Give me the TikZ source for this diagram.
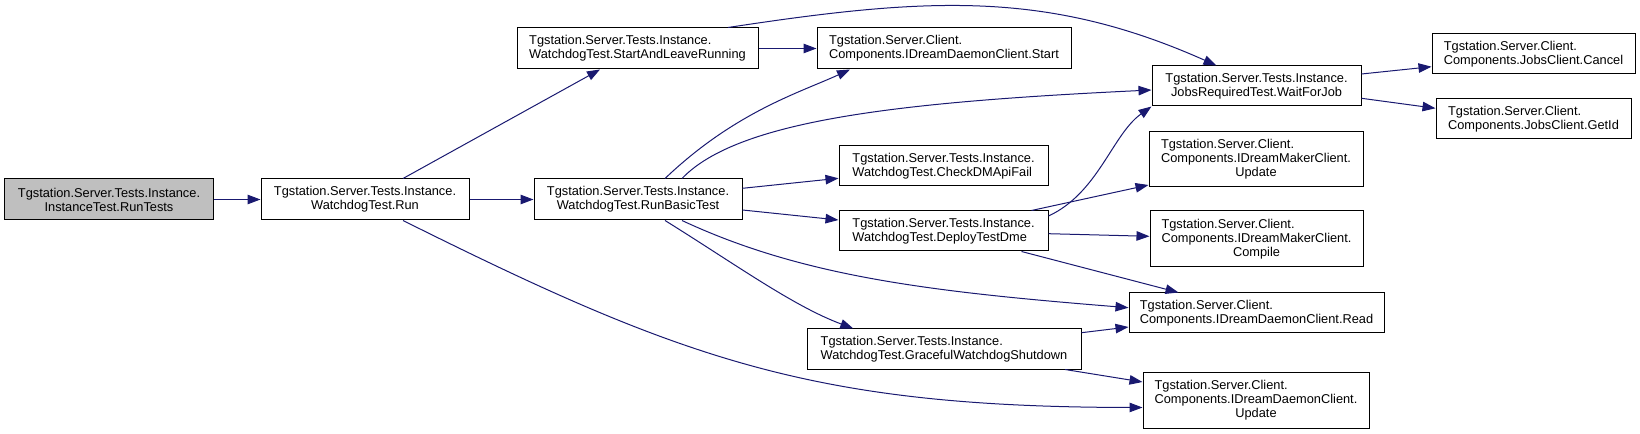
\documentclass[tikz,border=0pt]{standalone}
\usepackage{fontspec}
\setmainfont{Liberation Sans}
\usetikzlibrary{arrows.meta,calc}
\definecolor{edgeblue}{HTML}{191970}
\definecolor{rootgray}{HTML}{BFBFBF}
\newcommand\padl[2]{\rlap{#1}\phantom{#2}}
\begin{document}
\begin{tikzpicture}[x=1bp,y=-1bp,
  box/.style={draw=black, line width=1bp, fill=white, inner sep=0pt,
    font=\fontsize{12.8bp}{14bp}\selectfont},
  boxl/.style={box, align=left},
  boxc/.style={box, align=center},
  conn/.style={draw=edgeblue, line width=1bp, -{Triangle[length=13bp,width=9.5bp]}}]
\useasboundingbox (0,0) rectangle (1640,434);

\node[boxc, fill=rootgray, minimum width=208bp, minimum height=41bp] (A) at (109,199.5)
  {Tgstation.Server.Tests.Instance.\\InstanceTest.RunTests};
\node[boxc, minimum width=208bp, minimum height=41bp] (B) at (365,199.5)
  {Tgstation.Server.Tests.Instance.\\WatchdogTest.Run};
\node[boxl, minimum width=241bp, minimum height=41bp] (C) at (637.5,48.5)
  {Tgstation.Server.Tests.Instance.\\WatchdogTest.StartAndLeaveRunning};
\node[boxc, minimum width=208bp, minimum height=41bp] (D) at (638,199.5)
  {Tgstation.Server.Tests.Instance.\\WatchdogTest.RunBasicTest};
\node[boxl, minimum width=254bp, minimum height=41bp] (E) at (944,48.5)
  {Tgstation.Server.Client.\\Components.IDreamDaemonClient.Start};
\node[boxc, minimum width=209bp, minimum height=40bp] (F) at (1256.5,86)
  {Tgstation.Server.Tests.Instance.\\JobsRequiredTest.WaitForJob};
\node[boxl, minimum width=209bp, minimum height=40bp] (G) at (943.5,166)
  {Tgstation.Server.Tests.Instance.\\WatchdogTest.CheckDMApiFail};
\node[boxl, minimum width=209bp, minimum height=40bp] (H) at (943.5,231)
  {Tgstation.Server.Tests.Instance.\\WatchdogTest.DeployTestDme};
\node[boxl, minimum width=274bp, minimum height=40bp] (I) at (944,349)
  {Tgstation.Server.Tests.Instance.\\WatchdogTest.GracefulWatchdogShutdown};
\node[boxl, minimum width=255bp, minimum height=40bp] (J) at (1256.5,313)
  {Tgstation.Server.Client.\\Components.IDreamDaemonClient.Read};
\node[boxc, minimum width=226bp, minimum height=55bp] (K) at (1256,400.5)
  {\padl{Tgstation.Server.Client.}{Components.IDreamDaemonClient.}\\Components.IDreamDaemonClient.\\Update};
\node[boxl, minimum width=203bp, minimum height=40bp] (L) at (1533.5,54)
  {Tgstation.Server.Client.\\Components.JobsClient.Cancel};
\node[boxl, minimum width=195bp, minimum height=40bp] (M) at (1533.5,119)
  {Tgstation.Server.Client.\\Components.JobsClient.GetId};
\node[boxc, minimum width=214bp, minimum height=55bp] (N) at (1256,159.5)
  {\padl{Tgstation.Server.Client.}{Components.IDreamMakerClient.}\\Components.IDreamMakerClient.\\Update};
\node[boxc, minimum width=213bp, minimum height=56bp] (O) at (1256.5,239)
  {\padl{Tgstation.Server.Client.}{Components.IDreamMakerClient.}\\Components.IDreamMakerClient.\\Compile};

% connectors
\draw[conn] (A.east) -- (B.west);
\draw[conn] ($(B.north)+(38,0)$) -- ($(C.south)+(-37.5,0)$);
\draw[conn] (B.east) -- (D.west);
\draw[conn] ($(B.south)+(38,0)$) .. controls (683,360) and (813,407) .. ($(K.west)+(0,7)$);
\draw[conn] (C.east) -- (E.west);
\draw[conn] ($(C.north)+(90.5,0)$) .. controls (928,-3) and (1047,-10) .. ($(F.north)+(-40,0)$);
\draw[conn] ($(D.north)+(27,0)$) .. controls (735,111.8) and (800,92.5) .. ($(E.south)+(-94,0)$);
\draw[conn] ($(D.north)+(44,0)$) .. controls (738,120) and (900,102) .. ($(F.west)+(0,4)$);
\draw[conn] ($(D.east)+(0,-11.2)$) -- ($(G.west)+(0,12.3)$);
\draw[conn] ($(D.east)+(0,10.5)$) -- ($(H.west)+(0,-11)$);
\draw[conn] ($(D.south)+(27,0)$) .. controls (735,264) and (793.3,306.2) .. ($(I.north)+(-90.7,0)$);
\draw[conn] ($(D.south)+(44,0)$) .. controls (801.7,276.4) and (929,291.7) .. ($(J.west)+(0,-5.3)$);
\draw[conn] ($(H.east)+(0,-15)$) .. controls (1098.3,193) and (1112.3,134.4) .. (F.south west);
\draw[conn] ($(H.north)+(88,0)$) -- ($(N.west)+(0,25.5)$);
\draw[conn] ($(H.east)+(0,2.7)$) -- ($(O.west)+(0,-2.7)$);
\draw[conn] ($(H.south)+(78,0)$) -- ($(J.north)+(-78,0)$);
\draw[conn] ($(I.east)+(0,-16.3)$) -- ($(J.west)+(0,14)$);
\draw[conn] ($(I.south)+(121,0)$) -- ($(K.west)+(0,-18.5)$);
\draw[conn] ($(F.east)+(0,-12)$) -- ($(L.west)+(0,12.7)$);
\draw[conn] ($(F.east)+(0,12.3)$) -- ($(M.west)+(0,-10.7)$);
\end{tikzpicture}
\end{document}
